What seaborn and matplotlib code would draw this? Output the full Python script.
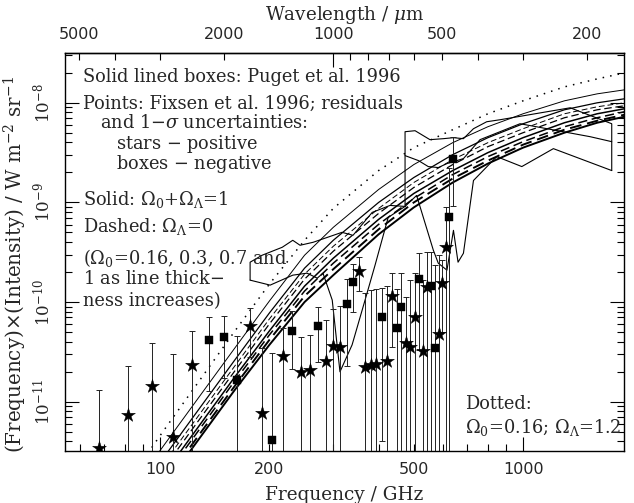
import numpy as np
import matplotlib
matplotlib.use("Agg")
import matplotlib.pyplot as plt
import matplotlib.ticker as mticker
import seaborn as sns

# ---------------- data ----------------
# model curves: frequency (GHz) and log10 of nu*I_nu (W m^-2 sr^-1)
nu_model = [50, 70, 100, 130, 160, 200, 250, 300, 400, 500, 640, 800, 1000, 1300, 1600, 1900]
solid_1 = [-13.00, -12.27, -11.49, -10.92, -10.47, -9.99, -9.53, -9.25, -8.87, -8.62, -8.40, -8.24, -8.11, -7.98, -7.91, -7.87]
solid_2 = [-13.12, -12.39, -11.61, -11.04, -10.59, -10.11, -9.66, -9.38, -9.00, -8.75, -8.52, -8.35, -8.21, -8.07, -8.00, -7.96]
solid_3 = [-13.29, -12.56, -11.78, -11.21, -10.76, -10.29, -9.84, -9.56, -9.17, -8.91, -8.68, -8.50, -8.35, -8.20, -8.11, -8.06]
solid_4 = [-13.42, -12.69, -11.91, -11.34, -10.89, -10.43, -10.00, -9.73, -9.32, -9.05, -8.80, -8.61, -8.45, -8.30, -8.20, -8.14]
dashed_1 = [-13.18, -12.45, -11.67, -11.10, -10.65, -10.17, -9.72, -9.44, -9.06, -8.80, -8.57, -8.40, -8.26, -8.11, -8.04, -8.00]
dashed_2 = [-13.23, -12.50, -11.72, -11.15, -10.70, -10.22, -9.77, -9.49, -9.11, -8.85, -8.62, -8.44, -8.30, -8.15, -8.07, -8.03]
dashed_3 = [-13.33, -12.60, -11.82, -11.25, -10.80, -10.33, -9.89, -9.61, -9.22, -8.96, -8.72, -8.54, -8.39, -8.24, -8.15, -8.09]
dashed_4 = [-13.38, -12.65, -11.87, -11.30, -10.85, -10.38, -9.94, -9.67, -9.27, -9.00, -8.76, -8.58, -8.42, -8.27, -8.18, -8.12]
dotted = [-12.90, -12.15, -11.34, -10.76, -10.30, -9.82, -9.38, -9.06, -8.68, -8.45, -8.27, -8.11, -7.98, -7.84, -7.76, -7.70]

# Puget et al. 1996 boxes: edges as (GHz, log10 nu*I_nu)
box_low_nu_up = [177, 177, 191, 217, 232, 243, 264, 317, 340, 384, 430, 473]
box_low_up = [-9.78, -9.60, -9.53, -9.45, -9.38, -9.43, -9.40, -9.30, -9.33, -9.10, -9.03, -9.04]
box_low_nu_lo = [177, 201, 232, 254, 271, 281, 298, 313, 338, 367, 391, 425, 473]
box_low_lo = [-9.78, -9.83, -9.73, -9.71, -9.76, -9.71, -9.98, -10.70, -10.43, -9.98, -9.63, -9.15, -9.04]

box_high_nu_up = [473, 473, 504, 554, 603, 643, 685, 730, 794, 864, 1348, 1755, 1755]
box_high_up = [-9.04, -8.29, -8.28, -8.37, -8.36, -8.35, -8.36, -8.26, -8.19, -8.17, -8.05, -8.21, -8.68]
box_high_nu_mid = [473, 515, 548, 584, 617, 685, 761, 981, 1530, 1755]
box_high_mid = [-8.53, -8.58, -8.64, -8.65, -8.61, -8.56, -8.37, -8.21, -8.34, -8.39]
box_high_nu_lo = [473, 509, 566, 584, 617, 643, 662, 685, 730, 846, 992, 1212, 1755]
box_high_lo = [-9.04, -8.93, -9.48, -9.61, -9.68, -9.28, -9.60, -9.51, -8.78, -8.54, -8.64, -8.46, -8.68]

# Fixsen et al. 1996 residuals: |residual| and 1-sigma (W m^-2 sr^-1)
fixsen_nu = [68.0, 81.6, 95.2, 108.8, 122.4, 136.0, 149.6, 163.2, 176.8, 190.4,
             204.0, 217.6, 231.2, 244.8, 258.4, 272.0, 285.6, 299.2, 312.8, 326.4,
             340.0, 353.6, 367.2, 380.8, 394.4, 408.0, 421.6, 435.2, 448.8, 462.4,
             476.0, 489.6, 503.2, 516.8, 530.4, 544.0, 557.6, 571.2, 584.8, 598.4,
             612.0, 625.6, 639.2]
fixsen_abs = [3.42e-12, 7.38e-12, 1.44e-11, 4.47e-12, 2.34e-11, 4.17e-11, 4.50e-11, 1.66e-11, 5.75e-11, 7.78e-12,
              4.14e-12, 2.88e-11, 5.13e-11, 2.00e-11, 2.08e-11, 5.75e-11, 2.58e-11, 3.63e-11, 3.52e-11, 9.57e-11,
              1.59e-10, 2.07e-10, 2.25e-11, 2.34e-11, 2.39e-11, 7.05e-11, 2.57e-11, 1.15e-10, 5.46e-11, 8.87e-11,
              3.92e-11, 3.52e-11, 7.14e-11, 1.71e-10, 3.26e-11, 1.43e-10, 1.45e-10, 3.44e-11, 4.79e-11, 1.57e-10,
              3.55e-10, 7.19e-10, 2.74e-09]
fixsen_err = [9.7e-12, 1.55e-11, 2.42e-11, 2.54e-11, 2.79e-11, 2.88e-11, 2.76e-11, 2.91e-11, 2.92e-11, 2.66e-11,
              2.65e-11, 2.58e-11, 3.0e-11, 2.50e-11, 2.60e-11, 3.25e-11, 4.03e-11, 4.9e-11, 5.6e-11, 7.3e-11,
              8.0e-11, 7.8e-11, 1.0e-10, 1.1e-10, 1.1e-10, 6.65e-11, 1.2e-10, 8.0e-11, 8.2e-11, 1.06e-10,
              7.4e-11, 1.3e-10, 1.24e-10, 1.38e-10, 1.34e-10, 1.77e-10, 1.75e-10, 2.0e-10, 2.5e-10, 1.07e-10,
              5.5e-10, 1.5e-09, 1.82e-09]
fixsen_sign = ['+', '+', '+', '+', '+', '-', '-', '-', '+', '+',
               '-', '+', '-', '+', '+', '-', '+', '+', '+', '-',
               '-', '+', '+', '+', '+', '-', '+', '+', '-', '-',
               '+', '+', '+', '-', '+', '+', '-', '-', '+', '+',
               '+', '-', '-']

y_major = [1e-11, 1e-10, 1e-9, 1e-8]
y_labels = [r"$10^{-11}$", r"$10^{-10}$", r"$10^{-9}$", r"$10^{-8}$"]

# ---------------- figure ----------------
sns.set_theme(style="ticks")
plt.rcParams["font.family"] = ["DejaVu Serif"]
plt.rcParams["mathtext.fontset"] = "dejavuserif"

fig = plt.figure(figsize=(6.34, 5.03), dpi=100)
ax = fig.add_axes([65 / 634, 1 - 451 / 503, 559 / 634, 398 / 503])

nu_m = np.array(nu_model, dtype=float)
for vals, lw in [(solid_1, 0.7), (solid_2, 0.9), (solid_3, 1.1), (solid_4, 1.4)]:
    sns.lineplot(x=nu_m, y=10 ** np.array(vals), ax=ax, color="black", lw=lw,
                 sort=False, estimator=None)
for vals, lw in [(dashed_1, 0.7), (dashed_2, 0.9), (dashed_3, 1.1), (dashed_4, 1.4)]:
    sns.lineplot(x=nu_m, y=10 ** np.array(vals), ax=ax, color="black", lw=lw,
                 sort=False, estimator=None, linestyle=(0, (6, 3)))
sns.lineplot(x=nu_m, y=10 ** np.array(dotted), ax=ax, color="black", lw=1.1,
             sort=False, estimator=None, linestyle=(0, (1, 4)))

# Puget boxes
for bx, by in [(box_low_nu_up, box_low_up), (box_low_nu_lo, box_low_lo),
               (box_high_nu_up, box_high_up), (box_high_nu_mid, box_high_mid),
               (box_high_nu_lo, box_high_lo)]:
    sns.lineplot(x=np.array(bx, dtype=float), y=10 ** np.array(by), ax=ax,
                 color="black", lw=0.8, sort=False, estimator=None)

# Fixsen points
nu_f = np.array(fixsen_nu)
val_f = np.array(fixsen_abs)
err_f = np.array(fixsen_err)
ax.errorbar(nu_f, val_f, yerr=err_f, fmt="none", ecolor="#222222",
            elinewidth=0.7, capsize=2.5, capthick=0.7)
pos = np.array([s == '+' for s in fixsen_sign])
sns.scatterplot(x=nu_f[pos], y=val_f[pos], ax=ax, marker="*", s=110,
                color="black", edgecolor="black", linewidth=0.3, zorder=5)
sns.scatterplot(x=nu_f[~pos], y=val_f[~pos], ax=ax, marker="s", s=30,
                color="black", edgecolor="black", linewidth=0.3, zorder=5)

ax.set_xscale("log")
ax.set_yscale("log")
ax.set_xlim(54.7, 1897)
ax.set_ylim(10 ** -11.495, 10 ** -7.5)

# ticks
ax.xaxis.set_major_locator(mticker.FixedLocator([100, 1000]))
ax.xaxis.set_minor_locator(mticker.FixedLocator([60, 70, 80, 90, 200, 300, 400, 500,
                                                 600, 700, 800, 900]))
ax.xaxis.set_major_formatter(mticker.FuncFormatter(lambda v, p: "%d" % round(v)))
ax.xaxis.set_minor_formatter(mticker.FuncFormatter(
    lambda v, p: "%d" % round(v) if round(v) in (200, 500) else ""))
y_minor = [m * 10.0 ** e for e in (-12, -11, -10, -9, -8) for m in range(2, 10)]
y_minor = [v for v in y_minor if 10 ** -11.495 < v < 10 ** -7.5]
ax.yaxis.set_major_locator(mticker.FixedLocator(y_major))
ax.yaxis.set_major_formatter(mticker.FixedFormatter(y_labels))
ax.yaxis.set_minor_locator(mticker.FixedLocator(y_minor))
ax.yaxis.set_minor_formatter(mticker.NullFormatter())

ax.tick_params(which="both", direction="in", top=False, right=True,
               color="black", width=0.8)
ax.tick_params(which="major", length=10)
ax.tick_params(which="minor", length=5)
ax.tick_params(axis="x", which="both", labelsize=11.5, pad=8)
for lab in ax.get_xticklabels(which="both"):
    lab.set_family("DejaVu Sans")
ax.tick_params(axis="y", which="major", labelsize=12, labelrotation=90, pad=8)
for lab in ax.get_yticklabels():
    lab.set_va("center")


def nu2lam(nu):
    nu = np.asarray(nu, dtype=float)
    out = np.full_like(nu, 1e9)
    ok = nu > 0
    out[ok] = 299792.458 / nu[ok]
    return out


secax = ax.secondary_xaxis("top", functions=(nu2lam, nu2lam))
secax.xaxis.set_major_locator(mticker.FixedLocator([1000]))
secax.xaxis.set_minor_locator(mticker.FixedLocator([200, 300, 400, 500, 600, 700, 800,
                                                    900, 2000, 3000, 4000, 5000]))
secax.xaxis.set_major_formatter(mticker.FuncFormatter(lambda v, p: "%d" % round(v)))
secax.xaxis.set_minor_formatter(mticker.FuncFormatter(
    lambda v, p: "%d" % round(v) if round(v) in (200, 500, 2000, 5000) else ""))
secax.tick_params(which="both", direction="in", labelsize=11.5, pad=8, color="black",
                  width=0.8)
secax.tick_params(which="major", length=10)
secax.tick_params(which="minor", length=5)
for lab in secax.get_xticklabels(which="both"):
    lab.set_family("DejaVu Sans")
secax.set_xlabel(r"Wavelength / $\mu$m", fontsize=13.2, labelpad=5)

for sp in ax.spines.values():
    sp.set_color("black")
    sp.set_linewidth(1.0)
secax.spines["top"].set_linewidth(1.0)

ax.set_xlabel("Frequency / GHz", fontsize=13.3)
ax.xaxis.set_label_coords(0.5, -0.088)
ax.set_ylabel(r"(Frequency)$\times$(Intensity) / W m$^{-2}$ sr$^{-1}$", fontsize=14.3)
ax.yaxis.set_label_coords(-0.064, 0.468)

# annotations
fs = 12.8
tk = dict(transform=ax.transAxes, fontsize=fs, va="center_baseline", ha="left")
ax.text(0.032, 0.945, "Solid lined boxes: Puget et al. 1996", **tk)
ax.text(0.032, 0.876, "Points: Fixsen et al. 1996; residuals", **tk)
ax.text(0.062, 0.828, r"and 1$-\sigma$ uncertainties:", **tk)
ax.text(0.091, 0.779, r"stars $-$ positive", **tk)
ax.text(0.091, 0.729, r"boxes $-$ negative", **tk)
ax.text(0.032, 0.638, r"Solid: $\Omega_0$+$\Omega_\Lambda$=1", **tk)
ax.text(0.032, 0.570, r"Dashed: $\Omega_\Lambda$=0", **tk)
ax.text(0.032, 0.490, r"($\Omega_0$=0.16, 0.3, 0.7 and", **tk)
ax.text(0.032, 0.436, r"1 as line thick$-$", **tk)
ax.text(0.032, 0.382, "ness increases)", **tk)
ax.text(0.716, 0.124, "Dotted:", **tk)
ax.text(0.716, 0.066, r"$\Omega_0$=0.16; $\Omega_\Lambda$=1.2", **tk)

fig.savefig("out.png", dpi=100)
